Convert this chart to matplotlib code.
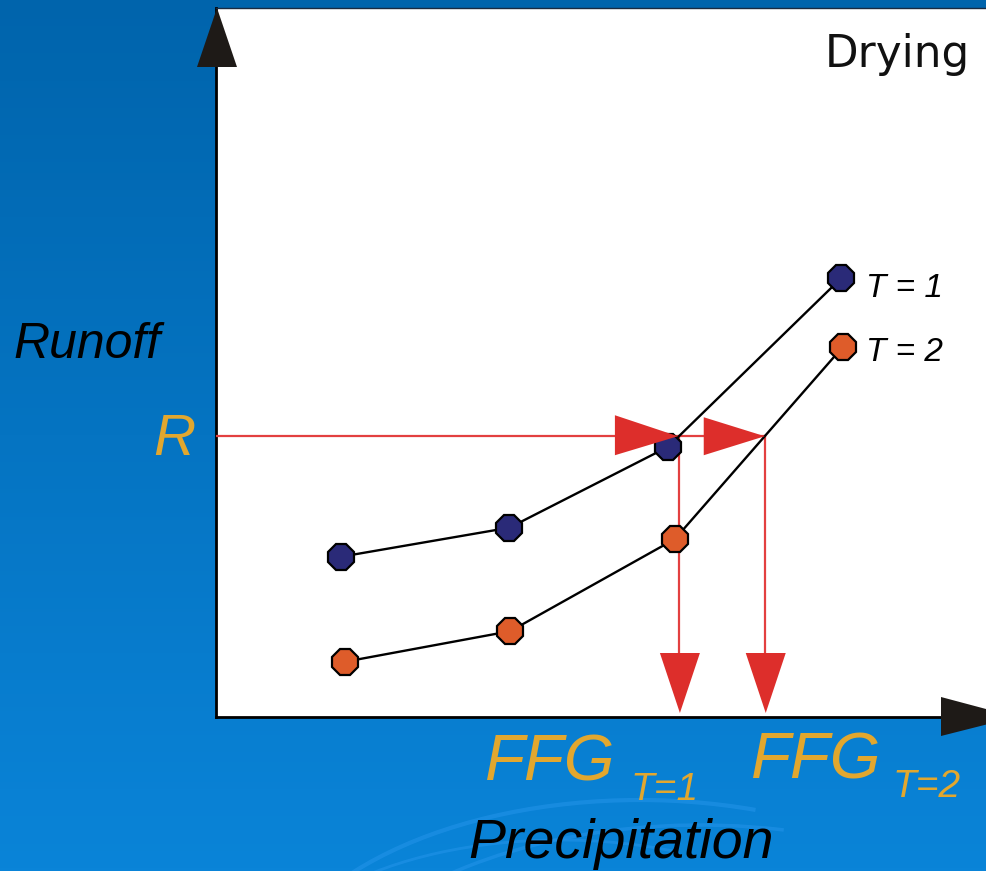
import numpy as np
import matplotlib
matplotlib.use("Agg")
import matplotlib.pyplot as plt
from matplotlib import transforms as mtransforms
from matplotlib.patches import Polygon, Arc

# Rainfall-runoff curves for two soil-moisture states (conceptual units)
precip_t1 = [1.62, 3.81, 5.87, 8.12]
runoff_t1 = [2.26, 2.67, 3.81, 6.19]
precip_t2 = [1.68, 3.82, 5.96, 8.14]
runoff_t2 = [0.78, 1.21, 2.51, 5.22]
runoff_threshold = 3.96
series_labels = ["T = 1", "T = 2"]
ffg_subscripts = ["T=1", "T=2"]

W, H = 986, 871
fig = plt.figure(figsize=(W / 100, H / 100), dpi=100)


def fx(x):
    return x / W


def fy(y):
    return 1 - y / H


# Blue gradient backdrop
bg = fig.add_axes([0, 0, 1, 1])
bg.set_xlim(0, W)
bg.set_ylim(H, 0)
bg.axis("off")
top = np.array([0x00, 0x64, 0xAC]) / 255
bot = np.array([0x0A, 0x84, 0xD8]) / 255
t = np.linspace(0, 1, 256)[:, None]
grad = top[None, :] * (1 - t) + bot[None, :] * t
bg.imshow(grad[:, None, :], extent=[0, W, H, 0], aspect="auto", zorder=0)
# faint swirls near the bottom
for (cx, cy, w, h, a1, a2, lw) in [(640, 1010, 760, 420, 195, 300, 3),
                                   (700, 1060, 820, 470, 200, 290, 2.5),
                                   (560, 990, 600, 300, 190, 310, 2)]:
    bg.add_patch(Arc((cx, cy), w, h, theta1=a1, theta2=a2,
                     color="#2a98ee", lw=lw, alpha=0.45, zorder=1))

# White chart panel
L, T, R, B = 216, 8, 986, 717
ax = fig.add_axes([fx(L), fy(B), fx(R - L), (B - T) / H])
ax.set_facecolor("white")
ax.set_xlim(0, 10)
ax.set_ylim(0, 10)
ax.set_xticks([])
ax.set_yticks([])
for side in ["left", "bottom"]:
    ax.spines[side].set_color("black")
    ax.spines[side].set_linewidth(2)
ax.spines["top"].set_color("#1a2a40")
ax.spines["top"].set_linewidth(1)
ax.spines["right"].set_visible(False)


def crossing(xs, ys, level):
    for i in range(len(xs) - 1):
        if (ys[i] - level) * (ys[i + 1] - level) <= 0:
            f = (level - ys[i]) / (ys[i + 1] - ys[i])
            return xs[i] + f * (xs[i + 1] - xs[i])
    return None


def tri(x, y, verts, color, z=6):
    """Triangle whose vertices are pixel offsets from a data point."""
    tr = mtransforms.Affine2D() + mtransforms.ScaledTranslation(x, y, ax.transData)
    p = Polygon(verts, closed=True, transform=tr, facecolor=color,
                edgecolor="none", clip_on=False, zorder=z)
    ax.add_patch(p)


xc1 = crossing(precip_t1, runoff_t1, runoff_threshold)
xc2 = crossing(precip_t2, runoff_t2, runoff_threshold)

red = "#dd2e2b"
line_red = "#e34040"
ax.plot([0, xc2], [runoff_threshold, runoff_threshold], color=line_red, lw=1.6, zorder=3)
for xc in (xc1, xc2):
    ax.plot([xc, xc], [runoff_threshold, 0.5], color=line_red, lw=1.6, zorder=3)

# Curves
ax.plot(precip_t1, runoff_t1, color="black", lw=1.7, zorder=4)
ax.plot(precip_t2, runoff_t2, color="black", lw=1.7, zorder=4)
ax.plot(precip_t1, runoff_t1, ls="none", marker="8", ms=19.5, mfc="#2a2a78",
        mec="black", mew=1.6, zorder=5)
ax.plot(precip_t2, runoff_t2, ls="none", marker="8", ms=19.5, mfc="#de5c2a",
        mec="black", mew=1.6, zorder=5)

# Red arrowheads
tri(xc1, runoff_threshold, [(-1, 0), (-64, 21), (-64, -19)], red)
tri(xc2, runoff_threshold, [(0, 0), (-61, 19), (-61, -19)], red)
for xc in (xc1, xc2):
    tri(xc, 0, [(1, 4), (-19, 64), (21, 64)], red)

# Axis arrowheads
tri(0, 10, [(1, 0), (-19, -59), (21, -59)], "#1e1a17", z=7)
tri(10, 0, [(30, 0), (-45, 20), (-45, -19)], "#1e1a17", z=7)

# Text
sans_it = dict(family="Liberation Sans", style="italic")
gold = "#e2a72e"
fig.text(fx(825), fy(67), "Drying", family="DejaVu Sans", fontsize=31.5,
         color="#111111", va="baseline", ha="left")
fig.text(fx(13), fy(358), "Runoff", fontsize=36, color="black",
         va="baseline", ha="left", **sans_it)
fig.text(fx(153), fy(455), "R", fontsize=42, color=gold,
         va="baseline", ha="left", **sans_it)
fig.text(fx(866), fy(297), series_labels[0], fontsize=24, color="black",
         va="baseline", ha="left", **sans_it)
fig.text(fx(866), fy(361), series_labels[1], fontsize=24, color="black",
         va="baseline", ha="left", **sans_it)
for (xl, yb, xs, ys, sub) in [(485, 780, 630, 800, ffg_subscripts[0]),
                              (751, 778, 893, 797, ffg_subscripts[1])]:
    fig.text(fx(xl), fy(yb), "FFG", fontsize=47, color=gold,
             va="baseline", ha="left", **sans_it)
    fig.text(fx(xs), fy(ys), sub, fontsize=28, color=gold,
             va="baseline", ha="left", **sans_it)
fig.text(fx(468), fy(858), "Precipitation", fontsize=40, color="black",
         va="baseline", ha="left", **sans_it)

fig.savefig("out.png", dpi=100)
